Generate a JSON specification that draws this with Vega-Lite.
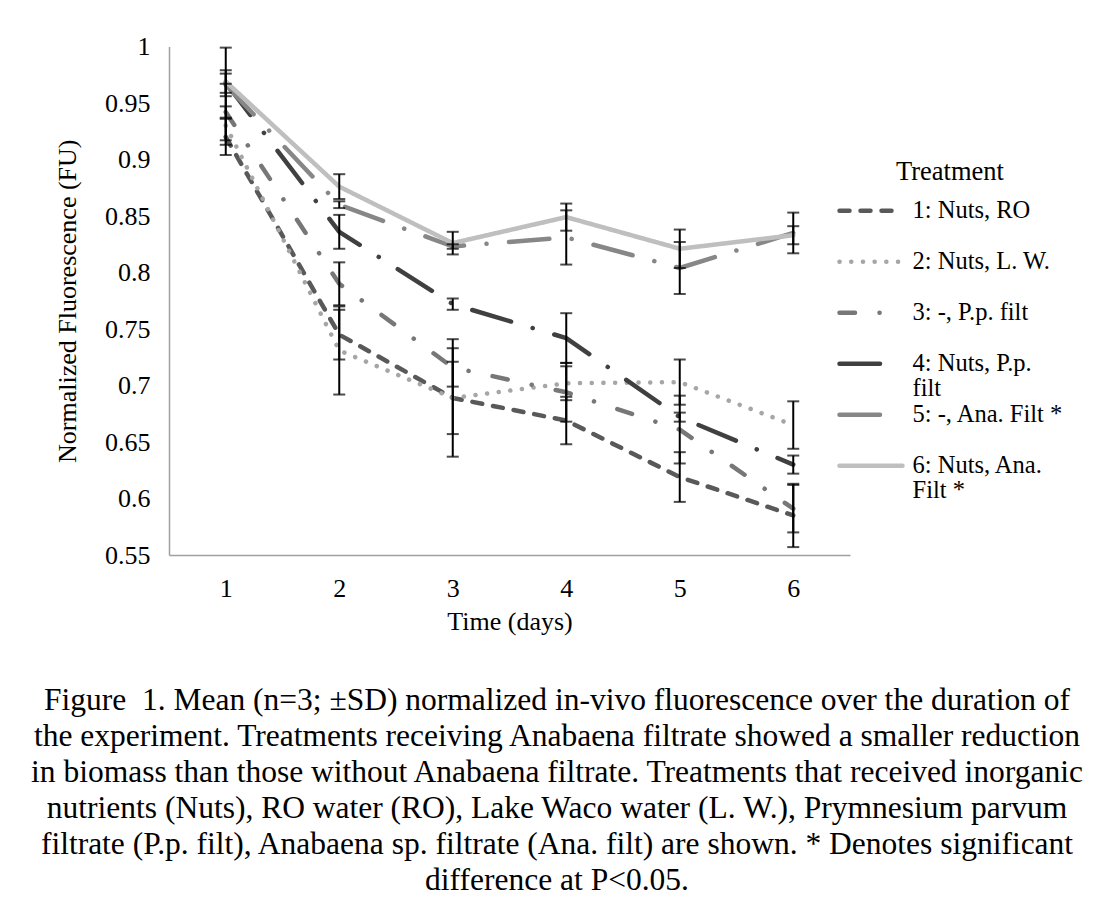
{
  "$schema": "https://vega.github.io/schema/vega-lite/v6.json",
  "width": 681,
  "height": 508.5,
  "autosize": {"type": "none"},
  "padding": {"left": 169, "top": 46.5, "right": 264, "bottom": 363},
  "background": "white",
  "title": {
    "text": [
      "Figure \u00a01. Mean (n=3; ±SD) normalized in-vivo fluorescence over the duration of",
      "the experiment. Treatments receiving Anabaena filtrate showed a smaller reduction",
      "in biomass than those without Anabaena filtrate. Treatments that received inorganic",
      "nutrients (Nuts), RO water (RO), Lake Waco water (L. W.), Prymnesium parvum",
      "filtrate (P.p. filt), Anabaena sp. filtrate (Ana. filt) are shown. * Denotes significant",
      "difference at P<0.05."
    ],
    "orient": "bottom",
    "anchor": "middle",
    "frame": "group",
    "dx": 47.5,
    "offset": 51,
    "font": "Liberation Serif",
    "fontSize": 31.5,
    "fontWeight": "normal",
    "lineHeight": 36,
    "color": "black"
  },
  "datasets": {
    "fl": [
      {"series": "1: Nuts, RO", "day": 1, "mean": 0.920, "sd": 0.016},
      {"series": "1: Nuts, RO", "day": 2, "mean": 0.745, "sd": 0.022},
      {"series": "1: Nuts, RO", "day": 3, "mean": 0.689, "sd": 0.052},
      {"series": "1: Nuts, RO", "day": 4, "mean": 0.669, "sd": 0.021},
      {"series": "1: Nuts, RO", "day": 5, "mean": 0.619, "sd": 0.022},
      {"series": "1: Nuts, RO", "day": 6, "mean": 0.585, "sd": 0.028},
      {"series": "2: Nuts, L. W.", "day": 1, "mean": 0.930, "sd": 0.017},
      {"series": "2: Nuts, L. W.", "day": 2, "mean": 0.731, "sd": 0.039},
      {"series": "2: Nuts, L. W.", "day": 3, "mean": 0.689, "sd": 0.032},
      {"series": "2: Nuts, L. W.", "day": 4, "mean": 0.702, "sd": 0.015},
      {"series": "2: Nuts, L. W.", "day": 5, "mean": 0.703, "sd": 0.020},
      {"series": "2: Nuts, L. W.", "day": 6, "mean": 0.665, "sd": 0.021},
      {"series": "3: -, P.p. filt", "day": 1, "mean": 0.942, "sd": 0.025},
      {"series": "3: -, P.p. filt", "day": 2, "mean": 0.790, "sd": 0.019},
      {"series": "3: -, P.p. filt", "day": 3, "mean": 0.716, "sd": 0.017},
      {"series": "3: -, P.p. filt", "day": 4, "mean": 0.694, "sd": 0.026},
      {"series": "3: -, P.p. filt", "day": 5, "mean": 0.661, "sd": 0.030},
      {"series": "3: -, P.p. filt", "day": 6, "mean": 0.591, "sd": 0.021},
      {"series": "4: Nuts, P.p. filt", "day": 1, "mean": 0.968, "sd": 0.031},
      {"series": "4: Nuts, P.p. filt", "day": 2, "mean": 0.836, "sd": 0.015},
      {"series": "4: Nuts, P.p. filt", "day": 3, "mean": 0.772, "sd": 0.005},
      {"series": "4: Nuts, P.p. filt", "day": 4, "mean": 0.742, "sd": 0.022},
      {"series": "4: Nuts, P.p. filt", "day": 5, "mean": 0.672, "sd": 0.004},
      {"series": "4: Nuts, P.p. filt", "day": 6, "mean": 0.630, "sd": 0.008},
      {"series": "5: -, Ana. Filt *", "day": 1, "mean": 0.966, "sd": 0.010},
      {"series": "5: -, Ana. Filt *", "day": 2, "mean": 0.860, "sd": 0.003},
      {"series": "5: -, Ana. Filt *", "day": 3, "mean": 0.823, "sd": 0.002},
      {"series": "5: -, Ana. Filt *", "day": 4, "mean": 0.831, "sd": 0.024},
      {"series": "5: -, Ana. Filt *", "day": 5, "mean": 0.804, "sd": 0.023},
      {"series": "5: -, Ana. Filt *", "day": 6, "mean": 0.835, "sd": 0.018},
      {"series": "6: Nuts, Ana. Filt *", "day": 1, "mean": 0.969, "sd": 0.010},
      {"series": "6: Nuts, Ana. Filt *", "day": 2, "mean": 0.876, "sd": 0.011},
      {"series": "6: Nuts, Ana. Filt *", "day": 3, "mean": 0.826, "sd": 0.010},
      {"series": "6: Nuts, Ana. Filt *", "day": 4, "mean": 0.849, "sd": 0.012},
      {"series": "6: Nuts, Ana. Filt *", "day": 5, "mean": 0.821, "sd": 0.017},
      {"series": "6: Nuts, Ana. Filt *", "day": 6, "mean": 0.833, "sd": 0.008}
    ]
  },
  "data": {"name": "fl"},
  "layer": [
    {
      "mark": {"type": "line", "strokeWidth": 4.5, "strokeCap": "round", "strokeJoin": "round"},
      "encoding": {
        "x": {
          "field": "day", "type": "quantitative",
          "scale": {"domain": [0.5, 6.5], "nice": false, "zero": false},
          "axis": {
            "title": "Time (days)", "values": [1, 2, 3, 4, 5, 6], "format": "d",
            "grid": false, "ticks": false, "domainColor": "#a0a0a0", "domainWidth": 1.5,
            "labelFont": "Liberation Serif", "labelFontSize": 26, "labelColor": "black", "labelPadding": 20,
            "titleFont": "Liberation Serif", "titleFontSize": 26, "titleFontWeight": "normal", "titleColor": "black", "titlePadding": 7
          }
        },
        "y": {
          "field": "mean", "type": "quantitative",
          "title": "Normalized Fluorescence (FU)",
          "scale": {"domain": [0.55, 1.0], "nice": false, "zero": false},
          "axis": {
            "title": "Normalized Fluorescence (FU)",
            "values": [0.55, 0.6, 0.65, 0.7, 0.75, 0.8, 0.85, 0.9, 0.95, 1.0],
            "labelExpr": "format(datum.value, '.2~f')",
            "grid": false, "ticks": false, "domainColor": "#a0a0a0", "domainWidth": 1.5,
            "labelFont": "Liberation Serif", "labelFontSize": 26, "labelColor": "black", "labelPadding": 19,
            "titleFont": "Liberation Serif", "titleFontSize": 26, "titleFontWeight": "normal", "titleColor": "black", "titlePadding": 24
          }
        },
        "color": {
          "field": "series", "type": "nominal",
          "scale": {
            "domain": ["1: Nuts, RO", "2: Nuts, L. W.", "3: -, P.p. filt", "4: Nuts, P.p. filt", "5: -, Ana. Filt *", "6: Nuts, Ana. Filt *"],
            "range": ["#595959", "#a6a6a6", "#777777", "#404040", "#878787", "#bfbfbf"]
          },
          "legend": {
            "title": "Treatment", "orient": "none", "legendX": 668, "legendY": 112,
            "symbolType": "stroke", "symbolSize": 3969, "symbolStrokeWidth": 4.5,
            "labelFont": "Liberation Serif", "labelFontSize": 24.5, "labelColor": "black", "labelOffset": 7.5, "labelLimit": 300,
            "labelExpr": "datum.label == '4: Nuts, P.p. filt' ? ['4: Nuts, P.p.', 'filt'] : datum.label == '6: Nuts, Ana. Filt *' ? ['6: Nuts, Ana.', 'Filt *'] : [datum.label, ' ']",
            "titleFont": "Liberation Serif", "titleFontSize": 26.5, "titleFontWeight": "normal", "titleColor": "black",
            "titleAnchor": "middle", "titlePadding": 13, "rowPadding": 0, "clipHeight": 25.5,
            "encoding": {"symbols": {"strokeCap": {"value": "round"}}, "labels": {"lineHeight": {"value": 25.5}}}
          }
        },
        "strokeDash": {
          "field": "series", "type": "nominal",
          "scale": {
            "domain": ["1: Nuts, RO", "2: Nuts, L. W.", "3: -, P.p. filt", "4: Nuts, P.p. filt", "5: -, Ana. Filt *", "6: Nuts, Ana. Filt *"],
            "range": [[10, 11], [0.1, 11.6], [15.5, 24.5, 0.1, 24.5], [40.5, 22.5, 0.1, 22.5], [40.5, 22.5, 0.1, 22.5], [1, 0]]
          },
          "legend": {
            "title": "Treatment", "orient": "none", "legendX": 668, "legendY": 112,
            "symbolType": "stroke", "symbolSize": 3969, "symbolStrokeWidth": 4.5,
            "labelFont": "Liberation Serif", "labelFontSize": 24.5, "labelColor": "black", "labelOffset": 7.5, "labelLimit": 300,
            "labelExpr": "datum.label == '4: Nuts, P.p. filt' ? ['4: Nuts, P.p.', 'filt'] : datum.label == '6: Nuts, Ana. Filt *' ? ['6: Nuts, Ana.', 'Filt *'] : [datum.label, ' ']",
            "titleFont": "Liberation Serif", "titleFontSize": 26.5, "titleFontWeight": "normal", "titleColor": "black",
            "titleAnchor": "middle", "titlePadding": 13, "rowPadding": 0, "clipHeight": 25.5,
            "encoding": {"symbols": {"strokeCap": {"value": "round"}}, "labels": {"lineHeight": {"value": 25.5}}}
          }
        }
      }
    },
    {
      "mark": {
        "type": "errorbar",
        "ticks": {"size": 12, "thickness": 2, "color": "black"},
        "rule": {"strokeWidth": 2, "color": "black"},
        "color": "black"
      },
      "encoding": {
        "x": {"field": "day", "type": "quantitative", "title": "Time (days)"},
        "y": {"field": "mean", "type": "quantitative", "title": "Normalized Fluorescence (FU)"},
        "yError": {"field": "sd"}
      }
    }
  ],
  "config": {
    "view": {"stroke": null},
    "font": "Liberation Serif"
  }
}
